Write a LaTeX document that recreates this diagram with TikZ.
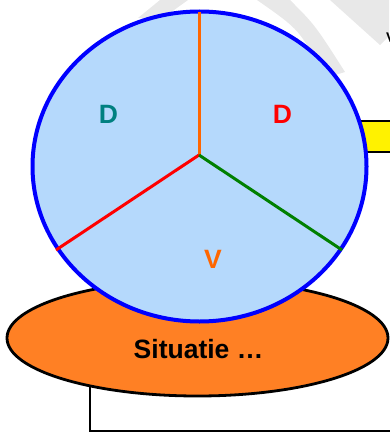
\documentclass[tikz,border=0pt]{standalone}
\usepackage{fontspec}
\setmainfont{Liberation Sans}
\usetikzlibrary{shapes.geometric}

\definecolor{kernblue}{RGB}{181,217,252}
\definecolor{sitorange}{RGB}{255,128,36}
\definecolor{spokeorange}{RGB}{255,102,0}
\definecolor{spokegreen}{RGB}{0,128,0}
\definecolor{letterteal}{RGB}{0,128,128}
\definecolor{wmgray}{RGB}{232,232,232}

\begin{document}
\begin{tikzpicture}[x=1pt, y=-1pt,
  disc/.style={ellipse, draw, inner sep=0pt, fill=#1},
  spoke/.style={line width=3pt, draw=#1},
  big/.style={font=\fontsize{26.5}{30}\selectfont\bfseries, text=#1, inner sep=0pt},
  wm/.style={fill=wmgray, draw=none},
]
\useasboundingbox (0,0) rectangle (389,433);

%% watermark bands (background)
\fill[wm] (160,0) -- (188,0) -- (163,18) -- (138,18) -- cycle;
\fill[wm] (257,0) -- (290,0) .. controls (315,25) .. (345,72) -- (325,78) .. controls (300,30) .. cycle;
\fill[wm] (330,0) -- (380,45) -- (389,36) -- (389,0) -- cycle;

%% yellow bar behind the circle
\node[draw, line width=1.5pt, fill=yellow, minimum width=70pt, minimum height=31pt,
      inner sep=0pt, anchor=west] (balk) at (340,136.5) {};

%% box line below the situation
\coordinate (start) at (90,375);
\coordinate (hoek) at (90,431);
\coordinate (rand) at (395,431);
\draw[line width=2pt] (start) -- (hoek) -- (rand);
\node[disc=sitorange, line width=2.8pt, minimum width=381pt, minimum height=116pt] (situatie) at (197.5,338) {};

%% the core: circle with three spokes
\node[disc=kernblue, draw=blue, line width=4pt, minimum width=334pt, minimum height=310pt] (kern) at (199.5,166.5) {};
\coordinate (hub) at (199,155);
\coordinate (boven) at (199,12);
\coordinate (links) at (56,250);
\coordinate (rechts) at (342,250);
\draw[spoke=spokeorange] (hub) -- (boven);
\draw[spoke=red] (hub) -- (links);
\draw[spoke=spokegreen] (hub) -- (rechts);

%% letters
\node[big=letterteal] (dlinks) at (108.5,114.5) {D};
\node[big=red] (drechts) at (282.5,114.5) {D};
\node[big=spokeorange] (v) at (213,259.5) {V};
\node[big=black] (sittekst) at (198.5,349) {Situatie …};
\node[font=\fontsize{14}{16}\selectfont\bfseries, inner sep=0pt, anchor=west] (rest) at (386,38) {V};

\end{tikzpicture}
\end{document}
